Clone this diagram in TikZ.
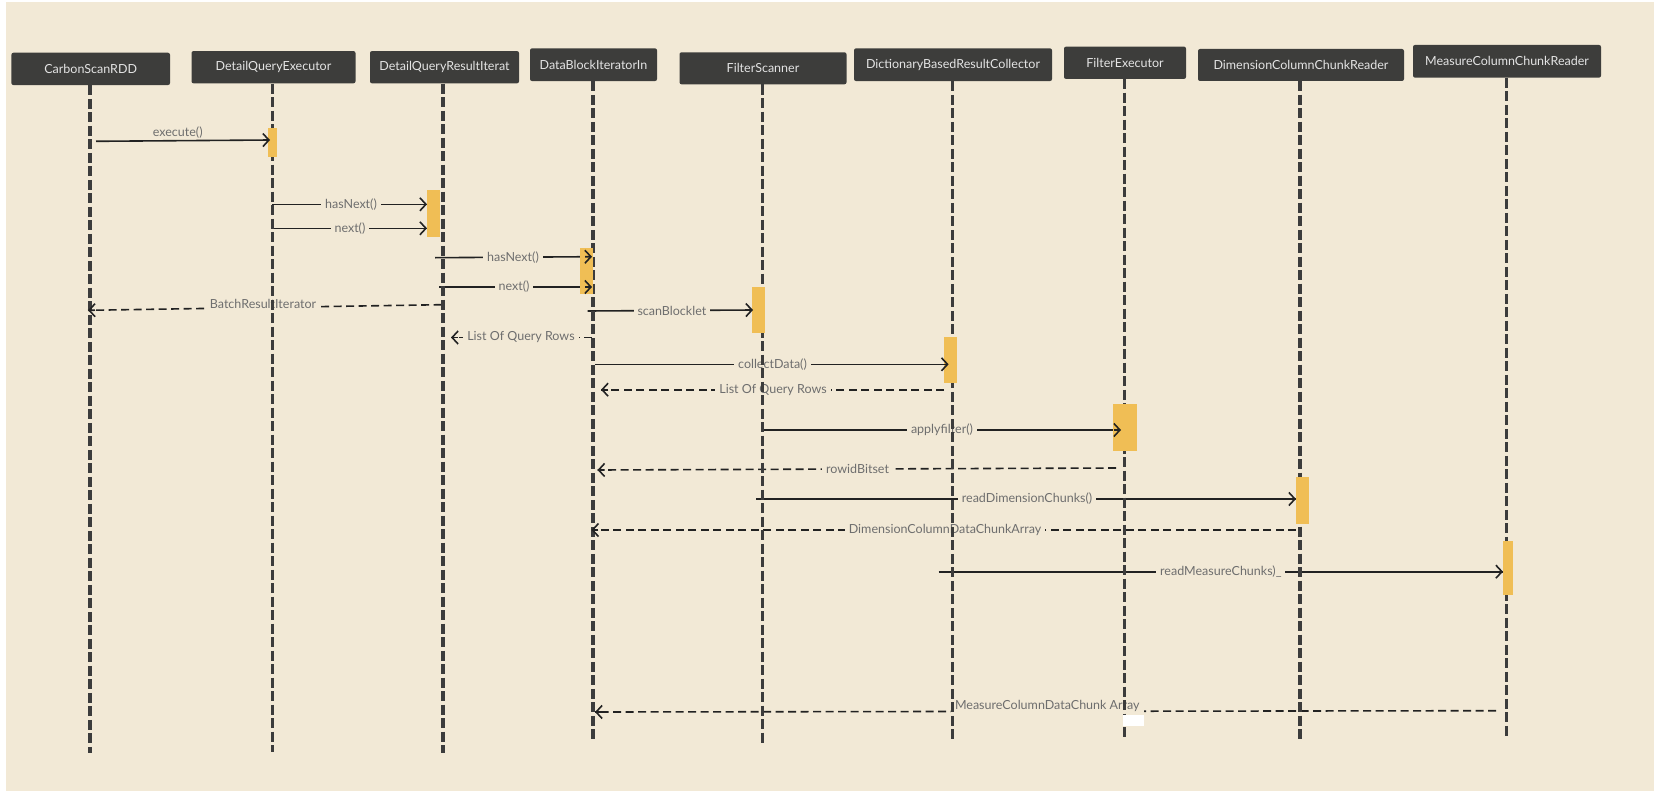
\documentclass[tikz,border=0pt]{standalone}
\usepackage{fontspec}
\setmainfont{Lato}
\usetikzlibrary{arrows.meta,calc}
\definecolor{bgc}{HTML}{F2E9D6}
\definecolor{boxc}{HTML}{3D3D3B}
\definecolor{boxt}{HTML}{E4E4E4}
\definecolor{barc}{HTML}{F0BE55}
\definecolor{lblc}{HTML}{6E6E6E}
\definecolor{linec}{HTML}{222222}
\definecolor{lifec}{HTML}{3C3C3C}
\pgfdeclarelayer{background}
\pgfdeclarelayer{msglayer}
\pgfdeclarelayer{barlayer}
\pgfdeclarelayer{tiplayer}
\pgfsetlayers{background,msglayer,main,barlayer,tiplayer}
\begin{document}
\begin{tikzpicture}[x=1pt,y=-1pt,
 actor/.style={fill=boxc, rounded corners=2pt, text=boxt, font=\fontsize{12.5}{14}\selectfont, inner sep=0pt},
 life/.style={lifec, line width=3.5pt, dash pattern=on 10pt off 3.5pt},
 actbar/.style={fill=barc, inner sep=0pt},
 msg/.style={linec, line width=1.6pt},
 ret/.style={linec, line width=1.6pt, dash pattern=on 8pt off 4.5pt},
 lbl/.style={fill=bgc, text=lblc, font=\fontsize{12.5}{14}\selectfont, inner xsep=4pt, inner ysep=2pt},
 tipx/.style={linec, line width=1.6pt, -{Straight Barb[length=6pt,width=13pt]}}
]
\useasboundingbox (0,0) rectangle (1655,792);
\begin{pgfonlayer}{background}
\fill[white] (0,0) rectangle (1655,792);
\fill[bgc] (6,2) rectangle (1654,791);
\end{pgfonlayer}

% actors
\node[actor, minimum width=158.6pt, minimum height=32.3pt] (a1) at (90.7,68.9) {CarbonScanRDD};
\node[actor, minimum width=164pt, minimum height=32.3pt] (a2) at (273.5,67.2) {DetailQueryExecutor};
\node[actor, minimum width=149pt, minimum height=32.3pt] (a3) at (444.5,67.2) {DetailQueryResultIterat};
\node[actor, minimum width=127pt, minimum height=32.7pt] (a4) at (593.5,64.7) {DataBlockIteratorIn};
\node[actor, minimum width=167pt, minimum height=32pt] (a5) at (763,68.3) {FilterScanner};
\node[actor, minimum width=198pt, minimum height=32.7pt] (a6) at (953,64.7) {DictionaryBasedResultCollector};
\node[actor, minimum width=122pt, minimum height=32.3pt] (a7) at (1125,62.8) {FilterExecutor};
\node[actor, minimum width=206pt, minimum height=32pt] (a8) at (1301,65) {DimensionColumnChunkReader};
\node[actor, minimum width=188pt, minimum height=32.7pt] (a9) at (1507,61.3) {MeasureColumnChunkReader};

% lifeline ends
\coordinate (e1) at (90,753);
\coordinate (e2) at (272.5,752);
\coordinate (e3) at (443,753);
\coordinate (e4) at (593,741);
\coordinate (e5) at (762.5,744);
\coordinate (e6) at (952.5,741);
\coordinate (e7) at (1124.7,738);
\coordinate (e8) at (1300,741);
\coordinate (e9) at (1506.5,737);
\foreach \i in {1,...,9} {\draw[life] (e\i |- a\i.south) -- (e\i);}

% activation bars
\begin{pgfonlayer}{barlayer}
\node[actbar, minimum width=9pt, minimum height=28.4pt] (k1) at (272.5,142.5) {};
\node[actbar, minimum width=13pt, minimum height=46.7pt] (k2) at (433.5,213.3) {};
\node[actbar, minimum width=13pt, minimum height=46.6pt] (k3) at (586.5,271) {};
\node[actbar, minimum width=13pt, minimum height=46pt] (k4) at (758.5,309.7) {};
\node[actbar, minimum width=13pt, minimum height=46pt] (k5) at (950.5,360.3) {};
\node[actbar, minimum width=24pt, minimum height=47pt] (k6) at (1125,427.5) {};
\node[actbar, minimum width=13.5pt, minimum height=47pt] (k7) at (1302.7,500.5) {};
\node[actbar, minimum width=10pt, minimum height=54pt] (k8) at (1508,568) {};
\end{pgfonlayer}

% message end points
\coordinate (m1s) at (96,141.3);   \coordinate (m1e) at (270,140);
\coordinate (m2s) at (272,204.3);  \coordinate (m2e) at (427,204.3);
\coordinate (m3s) at (272,228.3);  \coordinate (m3e) at (427,228.3);
\coordinate (m4s) at (435,257.7);  \coordinate (m4e) at (592,256.7);
\coordinate (m5s) at (439,287);    \coordinate (m5e) at (592,287);
\coordinate (m6s) at (441.6,304.7);\coordinate (m6e) at (88,310.3);
\coordinate (m7s) at (592,337.5);  \coordinate (m7e) at (451,337.5);
\coordinate (m8s) at (587.5,311);  \coordinate (m8e) at (753,310);
\coordinate (m9s) at (595,364.3);  \coordinate (m9e) at (948.6,364.3);
\coordinate (m10s) at (944,389.7); \coordinate (m10e) at (601,389.7);
\coordinate (m11s) at (763,430);   \coordinate (m11e) at (1121,430);
\coordinate (m12s) at (1116,468);  \coordinate (m12e) at (597.5,470);
\coordinate (m13s) at (756.4,499); \coordinate (m13e) at (1296,499);
\coordinate (m14s) at (1296,530);  \coordinate (m14e) at (591.4,530);
\coordinate (m15s) at (938.6,571.7);\coordinate (m15e) at (1503,571.7);
\coordinate (m16s) at (1496,710.7);\coordinate (m16e) at (595,712);

\begin{pgfonlayer}{msglayer}
\draw[msg] (m1s) -- node[pos=0.47, above=0.5pt, text=lblc, font=\fontsize{12.5}{14}\selectfont, inner sep=1pt] {execute()} (m1e);
\draw[msg] (m2s) -- node[lbl, pos=0.51] {hasNext()} (m2e);
\draw[msg] (m3s) -- node[lbl, pos=0.503] {next()} (m3e);
\draw[msg] (m4s) -- node[lbl, pos=0.497] {hasNext()} (m4e);
\draw[msg] (m5s) -- node[lbl, pos=0.49] {next()} (m5e);
\draw[ret] (m6s) -- node[lbl, pos=0.505, yshift=4pt] {BatchResultIterator} (m6e);
\draw[ret] (m7s) -- node[lbl, pos=0.504] {List Of Query Rows} (m7e);
\draw[msg] (m8s) -- node[lbl, pos=0.51] {scanBlocklet} (m8e);
\draw[msg] (m9s) -- node[lbl, pos=0.502] {collectData()} (m9e);
\draw[ret] (m10s) -- node[lbl, pos=0.4985] {List Of Query Rows} (m10e);
\draw[msg] (m11s) -- node[lbl, pos=0.5] {applyfilter()} (m11e);
\draw[ret] (m12s) -- node[lbl, pos=0.4985] {rowidBitset} (m12e);
\draw[msg] (m13s) -- node[lbl, pos=0.5015] {readDimensionChunks()} (m13e);
\draw[ret] (m14s) -- node[lbl, pos=0.498] {DimensionColumnDataChunkArray} (m14e);
\draw[msg] (m15s) -- node[lbl, pos=0.5] {readMeasureChunks)\_} (m15e);
\draw[ret] (m16s) -- node[lbl, pos=0.498, yshift=5pt] {MeasureColumnDataChunk Array} (m16e);
\end{pgfonlayer}

\begin{pgfonlayer}{tiplayer}
\foreach \i in {1,...,16} {\draw[tipx] ($(m\i e)!7pt!(m\i s)$) -- (m\i e);}
\fill[white] (1122.5,715) rectangle (1143.5,725.7);
\end{pgfonlayer}
\end{tikzpicture}
\end{document}
